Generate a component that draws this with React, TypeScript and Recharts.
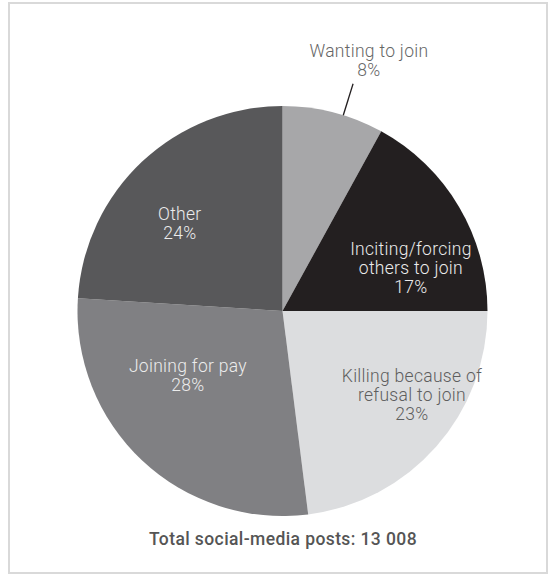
import React from "react";
import { PieChart, Pie, Cell } from "recharts";

const categories = [
  "Wanting to join",
  "Inciting/forcing others to join",
  "Killing because of refusal to join",
  "Joining for pay",
  "Other",
];
const labelLines = [
  ["Wanting to join"],
  ["Inciting/forcing", "others to join"],
  ["Killing because of", "refusal to join"],
  ["Joining for pay"],
  ["Other"],
];
const shares = [8, 17, 23, 28, 24];
const colors = ["#a7a7a9", "#231f20", "#dcdddf", "#808083", "#58585a"];
const totalLabel = "Total social-media posts: 13 008";

const data = categories.map((name, i) => ({
  name,
  value: shares[i],
  lines: labelLines[i],
}));

// label placement: radius as share of outer radius, angle shift from mid angle
const labelPlace: Record<string, { r: number; shift: number; text: string; outside?: boolean }> = {
  "Wanting to join": { r: 1.295, shift: -4.6, text: "#666666", outside: true },
  "Inciting/forcing others to join": { r: 0.661, shift: -12, text: "#ececec" },
  "Killing because of refusal to join": { r: 0.753, shift: 8.4, text: "#5e5e5e" },
  "Joining for pay": { r: 0.557, shift: -12.7, text: "#ececec" },
  Other: { r: 0.66, shift: 6.2, text: "#ececec" },
};

const RAD = Math.PI / 180;
const FONT = "Roboto, 'Liberation Sans', Arial, sans-serif";

const renderLabel = (props: any) => {
  const { cx, cy, midAngle, outerRadius } = props;
  const entry = props.payload ?? props;
  const name = entry.name;
  const cfg = labelPlace[name];
  const a = (midAngle + cfg.shift) * RAD;
  const x = cx + outerRadius * cfg.r * Math.cos(a);
  const y = cy - outerRadius * cfg.r * Math.sin(a);
  const lines: string[] = [...entry.lines, `${entry.value}%`];
  const fs = 17.5;
  const lh = 19;
  const top = y - ((lines.length - 1) * lh) / 2 + fs * 0.36;
  let leader = null;
  if (cfg.outside) {
    const la = (midAngle - 2.85) * RAD;
    leader = (
      <line
        x1={cx + outerRadius * Math.cos(la)}
        y1={cy - outerRadius * Math.sin(la)}
        x2={cx + (outerRadius + 33) * Math.cos(la)}
        y2={cy - (outerRadius + 33) * Math.sin(la)}
        stroke="#231f20"
        strokeWidth={1.3}
      />
    );
  }
  return (
    <g>
      {leader}
      <text
        x={x}
        y={top}
        textAnchor="middle"
        fill={cfg.text}
        fontFamily={FONT}
        fontWeight={300}
        fontSize={fs}
        letterSpacing={0.3}
      >
        {lines.map((l, i) => (
          <tspan key={i} x={x} y={top + i * lh}>
            {l}
          </tspan>
        ))}
      </text>
    </g>
  );
};

export default function App() {
  return (
    <div style={{ position: "absolute", left: 0, top: 0, width: 554, height: 580 }}>
      <style>{`.recharts-pie-sectors{filter:drop-shadow(2px 3px 3px rgba(0,0,0,0.35));}`}</style>
      <div
        style={{
          position: "absolute",
          left: 8,
          top: 2,
          width: 536,
          height: 568,
          border: "2px solid #d9d9d9",
        }}
      />
      <div style={{ position: "absolute", left: 0, top: 0 }}>
        <PieChart width={554} height={580}>
          <Pie
            data={data}
            dataKey="value"
            nameKey="name"
            cx={277.5}
            cy={306}
            outerRadius={205}
            startAngle={90}
            endAngle={-270}
            stroke="none"
            labelLine={false}
            label={renderLabel}
            isAnimationActive={false}
          >
            {data.map((d, i) => (
              <Cell key={d.name} fill={colors[i]} />
            ))}
          </Pie>
        </PieChart>
      </div>
      <div
        style={{
          position: "absolute",
          left: 0,
          width: 566,
          top: 529,
          textAlign: "center",
          fontFamily: FONT,
          fontWeight: 500,
          fontSize: 17.5,
          letterSpacing: 0.4,
          color: "#555555",
        }}
      >
        {totalLabel}
      </div>
    </div>
  );
}
